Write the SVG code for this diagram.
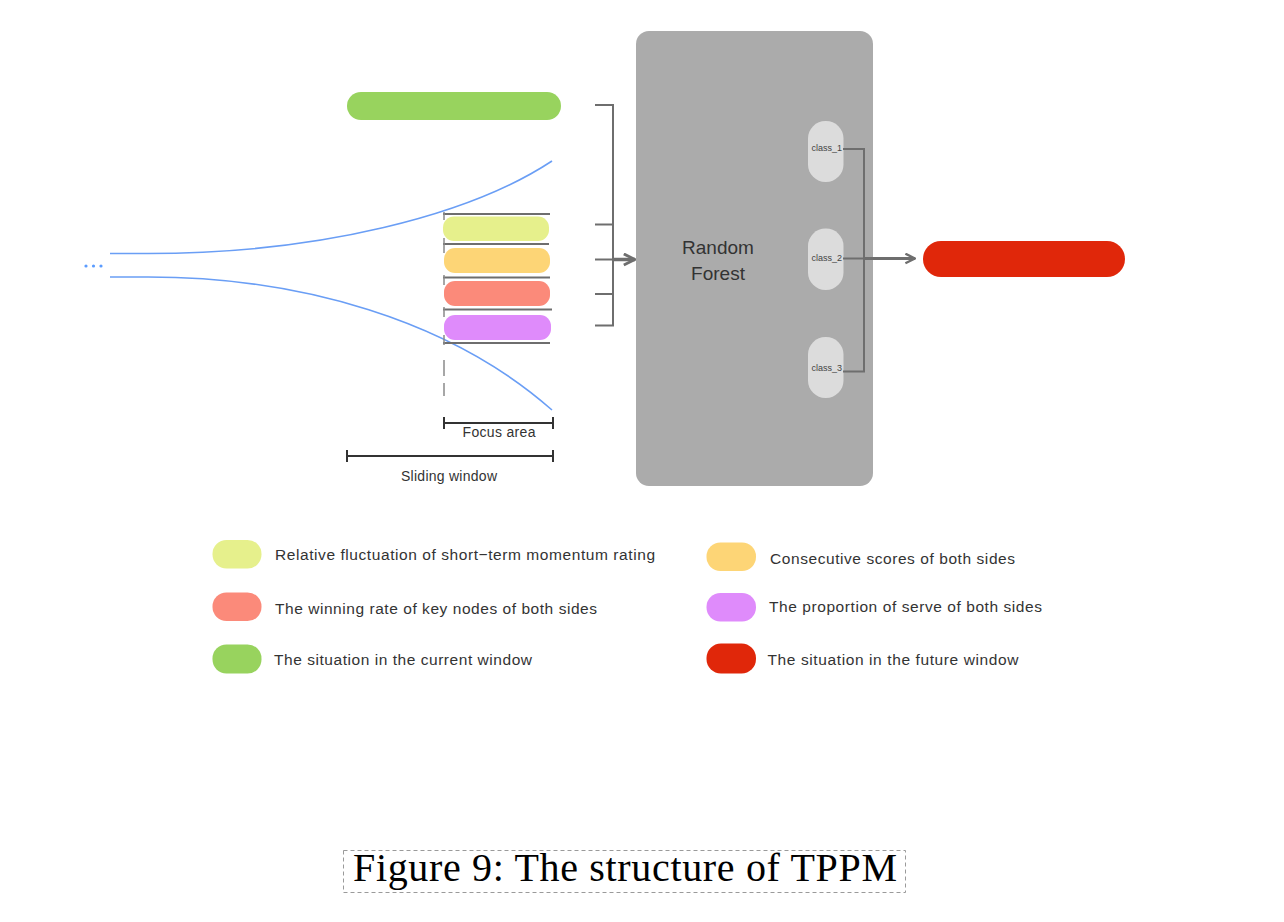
<svg xmlns="http://www.w3.org/2000/svg" width="1284" height="922" viewBox="0 0 1284 922">
<defs>
<style>
.curve{fill:none;stroke:#6a9ef5;stroke-width:1.6}
.ln{fill:none;stroke:#6e6e6e;stroke-width:2}
.blk{fill:none;stroke:#333;stroke-width:2}
.lbl{font-family:"Liberation Sans",Arial,sans-serif;fill:#333}
.cls{font-family:"Liberation Sans",Arial,sans-serif;font-size:9px;fill:#444;text-anchor:end}
</style>
<marker id="arr" viewBox="0 0 10 10" refX="9" refY="5" markerWidth="4" markerHeight="4" orient="auto" markerUnits="strokeWidth">
<path d="M1,1 L9,5 L1,9" fill="none" stroke="#6e6e6e" stroke-width="2"/>
</marker>
</defs>
<rect width="1284" height="922" fill="#fff"/>

<g id="sequence">
<circle cx="86" cy="266" r="1.6" fill="#5b9cff"/>
<circle cx="93.5" cy="266" r="1.6" fill="#5b9cff"/>
<circle cx="101" cy="266" r="1.6" fill="#5b9cff"/>
<path class="curve" d="M110,253.5 L148,253.5 C320,253.5 470,215 552,161"/>
<path class="curve" d="M110,277 L148,277 C300,277 450,320 552,410"/>
</g>

<g id="current-window">
<rect x="347" y="92" width="214" height="28" rx="14" fill="#98d35e"/>
</g>

<g id="focus-stack">
<line class="ln" x1="443" y1="214" x2="550" y2="214"/>
<line class="ln" x1="443" y1="244" x2="549" y2="244"/>
<line class="ln" x1="443" y1="277.5" x2="550" y2="277.5"/>
<line class="ln" x1="443" y1="309.5" x2="552" y2="309.5"/>
<line class="ln" x1="443" y1="343" x2="550" y2="343"/>
<g stroke="#8a8a8a" stroke-width="1.5">
<line x1="444" y1="212" x2="444" y2="220"/>
<line x1="444" y1="238" x2="444" y2="253"/>
<line x1="444" y1="275" x2="444" y2="285"/>
<line x1="444" y1="307" x2="444" y2="317"/>
<line x1="444" y1="335" x2="444" y2="345"/>
<line x1="444" y1="360" x2="444" y2="376"/>
<line x1="444" y1="383" x2="444" y2="396"/>
</g>
<rect x="443" y="216.5" width="106" height="24.5" rx="11" fill="#e6f08c"/>
<rect x="444" y="248" width="106" height="25" rx="11" fill="#fdd576"/>
<rect x="444" y="281" width="106" height="25" rx="11" fill="#fb8a7a"/>
<rect x="444" y="315" width="107" height="25" rx="11" fill="#df8bfb"/>
</g>

<g id="focus-area">
<line class="blk" x1="444" y1="423" x2="553" y2="423"/>
<line class="blk" x1="444" y1="417" x2="444" y2="429"/>
<line class="blk" x1="553" y1="417" x2="553" y2="429"/>
<text class="lbl" x="499" y="437" font-size="14" text-anchor="middle" textLength="73">Focus area</text>
</g>

<g id="sliding-window">
<line class="blk" x1="347" y1="456" x2="553" y2="456"/>
<line class="blk" x1="347" y1="450" x2="347" y2="462"/>
<line class="blk" x1="553" y1="450" x2="553" y2="462"/>
<text class="lbl" x="449" y="481" font-size="14" text-anchor="middle" textLength="96">Sliding window</text>
</g>

<g id="random-forest">
<rect x="636" y="31" width="237" height="455" rx="13" fill="#ababab"/>
<text class="lbl" x="718" y="254" font-size="19" text-anchor="middle">Random</text>
<text class="lbl" x="718" y="280" font-size="19" text-anchor="middle">Forest</text>
</g>

<g id="class_1">
<rect x="808" y="121" width="35.5" height="61" rx="17.5" fill="#dcdcdc"/>
<text class="cls" x="842" y="151">class_1</text>
</g>
<g id="class_2">
<rect x="808" y="228.5" width="35.5" height="61.5" rx="17.5" fill="#dcdcdc"/>
<text class="cls" x="842" y="261">class_2</text>
</g>
<g id="class_3">
<rect x="808" y="337" width="35.5" height="61" rx="17.5" fill="#dcdcdc"/>
<text class="cls" x="842" y="371">class_3</text>
</g>

<g id="future-window">
<rect x="923" y="241" width="202" height="36" rx="18" fill="#e0270a"/>
</g>

<g id="connectors">
<path class="ln" d="M595,105 H613 V325.5 H595"/>
<line class="ln" x1="595" y1="224.5" x2="613" y2="224.5"/>
<line class="ln" x1="595" y1="259.5" x2="613" y2="259.5"/>
<line class="ln" x1="595" y1="294" x2="613" y2="294"/>
<line x1="613" y1="259.5" x2="635" y2="259.5" stroke="#6e6e6e" stroke-width="3.5" marker-end="url(#arr)"/>
<path class="ln" d="M843,149 H864 V371.5 H843"/>
<line class="ln" x1="843" y1="258.5" x2="864" y2="258.5"/>
<line x1="864" y1="258.5" x2="915" y2="258.5" stroke="#6e6e6e" stroke-width="3" marker-end="url(#arr)"/>
</g>

<g id="legend">
<rect x="212.5" y="540" width="49" height="28.5" rx="14" fill="#e6f08c"/>
<rect x="212.5" y="592.5" width="49" height="28.5" rx="14" fill="#fb8a7a"/>
<rect x="212.5" y="644.5" width="49" height="29" rx="14" fill="#98d35e"/>
<rect x="706.5" y="542.5" width="49.5" height="28.5" rx="14" fill="#fdd576"/>
<rect x="706.5" y="593" width="49.5" height="28.5" rx="14" fill="#df8bfb"/>
<rect x="706.5" y="643.5" width="49.5" height="30" rx="14.5" fill="#e0270a"/>
<text class="lbl" x="275" y="560" font-size="15.5" textLength="380">Relative fluctuation of short−term momentum rating</text>
<text class="lbl" x="275" y="613.5" font-size="15.5" textLength="322">The winning rate of key nodes of both sides</text>
<text class="lbl" x="274" y="665" font-size="15.5" textLength="258">The situation in the current window</text>
<text class="lbl" x="770" y="563.5" font-size="15.5" textLength="245">Consecutive scores of both sides</text>
<text class="lbl" x="769" y="612" font-size="15.5" textLength="273">The proportion of serve of both sides</text>
<text class="lbl" x="767.5" y="665" font-size="15.5" textLength="251">The situation in the future window</text>
</g>

<g id="caption">
<rect x="343.5" y="850.5" width="562" height="42" fill="none" stroke="#9a9a9a" stroke-width="1" stroke-dasharray="4 3"/>
<text x="353" y="881" font-family="'Liberation Serif','Times New Roman',serif" font-size="40" fill="#000" textLength="544">Figure 9: The structure of TPPM</text>
</g>
</svg>
